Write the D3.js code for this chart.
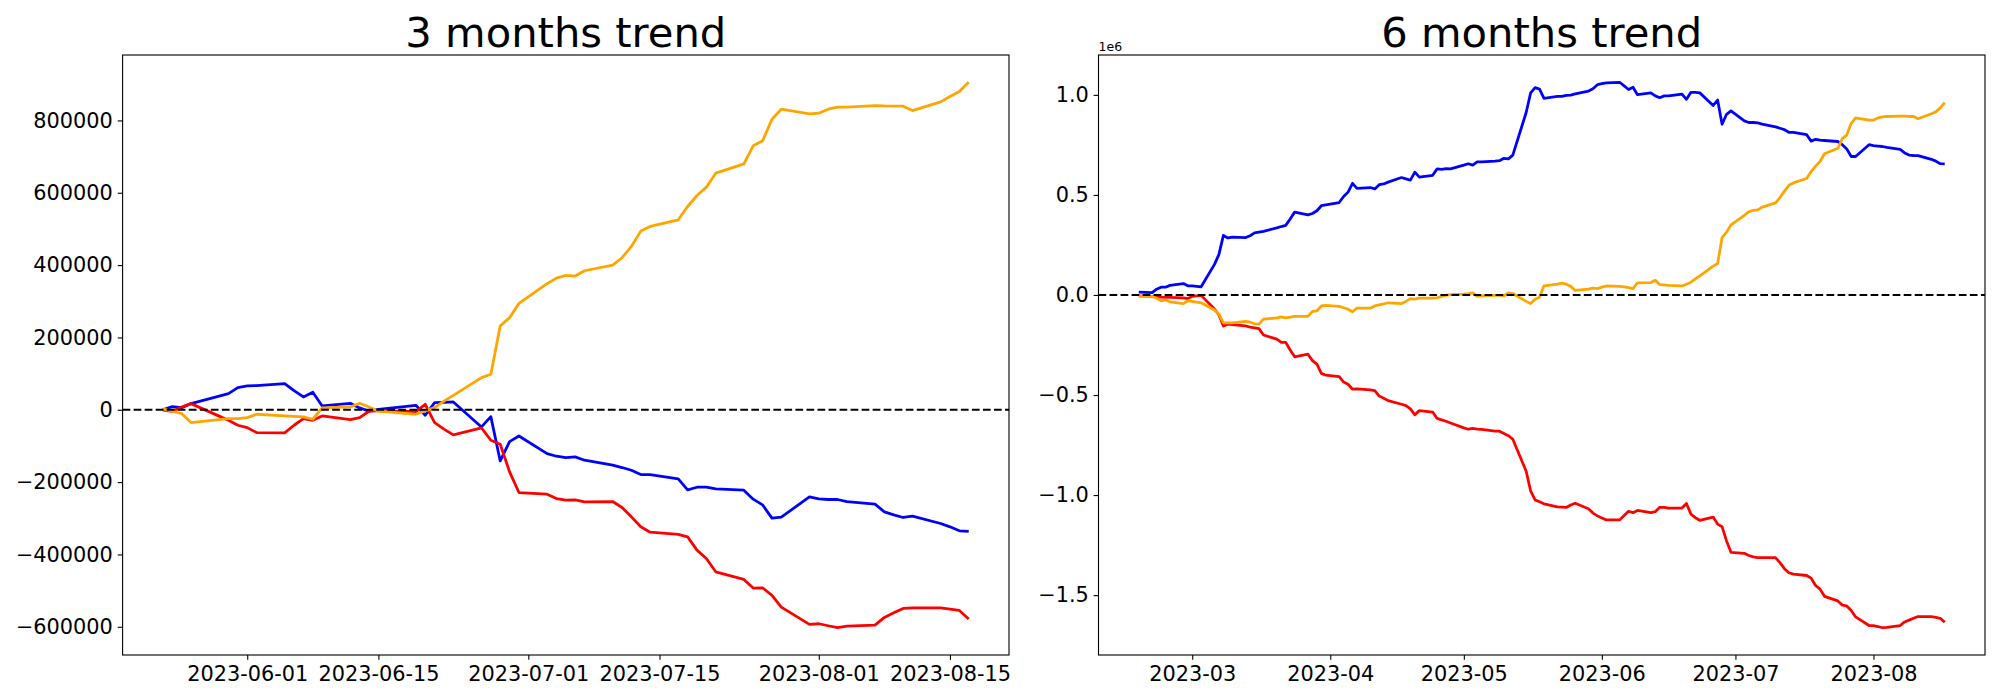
<!DOCTYPE html>
<html>
<head>
<meta charset="utf-8">
<script src="https://cdn.jsdelivr.net/npm/d3@7"></script>
<style>
  body { margin: 0; background: #ffffff; }
  svg { display: block; font-family: "DejaVu Sans", sans-serif; }
</style>
</head>
<body>
<svg id="chart" width="2000" height="700"></svg>
<script>
// ---- 3 months panel: trading days and cumulative values ----
const shortDates = [
  "2023-05-23", "2023-05-24", "2023-05-25", "2023-05-26",
  "2023-05-29", "2023-05-30", "2023-05-31", "2023-06-01", "2023-06-02",
  "2023-06-05", "2023-06-06", "2023-06-07", "2023-06-08", "2023-06-09",
  "2023-06-12", "2023-06-13", "2023-06-14", "2023-06-15", "2023-06-16",
  "2023-06-19", "2023-06-20", "2023-06-21", "2023-06-22", "2023-06-23",
  "2023-06-26", "2023-06-27", "2023-06-28", "2023-06-29", "2023-06-30",
  "2023-07-03", "2023-07-04", "2023-07-05", "2023-07-06", "2023-07-07",
  "2023-07-10", "2023-07-11", "2023-07-12", "2023-07-13", "2023-07-14",
  "2023-07-17", "2023-07-18", "2023-07-19", "2023-07-20", "2023-07-21",
  "2023-07-24", "2023-07-25", "2023-07-26", "2023-07-27", "2023-07-28",
  "2023-07-31", "2023-08-01", "2023-08-02", "2023-08-03", "2023-08-04",
  "2023-08-07", "2023-08-08", "2023-08-09", "2023-08-10", "2023-08-11",
  "2023-08-14", "2023-08-15", "2023-08-16", "2023-08-17"
];
const shortBlue = [
  0, 8700, 6000, 17000,
  37800, 44700, 61200, 65800, 66800,
  72300, 53000, 35400, 48300, 10600,
  18000, 5100, -4100, 1400, 4100,
  12400, -15200, 19800, 20700, 21600,
  -47400, -18900, -141400, -88000, -72400,
  -121100, -128400, -132000, -130300, -139500,
  -153300, -159700, -167100, -179000, -179000,
  -191100, -221500, -214100, -214100, -218700,
  -222400, -247200, -262900, -299700, -296900,
  -240800, -246300, -248100, -248100, -253700,
  -261000, -282200, -290400, -297800, -294100,
  -314400, -323600, -334600, -336400
];
const shortRed = [
  -1000, -4100, 7800, 17000,
  -17600, -29000, -42800, -49300, -63100,
  -64000, -42800, -24400, -29000, -17000,
  -27200, -21600, -4100, -2000, -3000,
  -5000, 15200, -35400, -53400, -69500,
  -50200, -84300, -95300, -171700, -228800,
  -233400, -245400, -250000, -249100, -254600,
  -253700, -270200, -296000, -323600, -338400,
  -344700, -351300, -388100, -411100, -448000,
  -469000, -493000, -492200, -513200, -545600,
  -593400, -591600, -597100, -602600, -598000,
  -595300, -574000, -561300, -549200, -547500,
  -547500, -551000, -554700, -578700
];
const shortOrange = [
  2300, -4100, -10600, -35400,
  -27200, -24400, -24400, -21600, -12400,
  -16900, -18400, -19800, -26200, 5100,
  7800, 18000, 7800, -4100, -6000,
  -12400, -3200, 6000, 23900, 40000,
  88900, 98100, 231500, 254700, 294200,
  348600, 364100, 371500, 369700, 384400,
  400000, 420400, 451600, 494000, 506900,
  525300, 562100, 592500, 615500, 654200,
  680000, 729800, 743600, 803400, 831000,
  818100, 820000, 831000, 836500, 836800,
  841100, 840000, 839500, 839300, 827300,
  851300, 866000, 879800, 905500
];
const shortXTicks = ["2023-06-01", "2023-06-15", "2023-07-01", "2023-07-15", "2023-08-01", "2023-08-15"];
const shortYTicks = [-600000, -400000, -200000, 0, 200000, 400000, 600000, 800000];

// ---- 6 months panel: values in millions (axis shows the 1e6 offset) ----
const longDates = [
  "2023-02-17",
  "2023-02-20", "2023-02-21", "2023-02-22", "2023-02-23", "2023-02-24",
  "2023-02-27", "2023-02-28", "2023-03-01", "2023-03-02", "2023-03-03",
  "2023-03-06", "2023-03-07", "2023-03-08", "2023-03-09", "2023-03-10",
  "2023-03-13", "2023-03-14", "2023-03-15", "2023-03-16", "2023-03-17",
  "2023-03-20", "2023-03-21", "2023-03-22", "2023-03-23", "2023-03-24",
  "2023-03-27", "2023-03-28", "2023-03-29", "2023-03-30", "2023-03-31",
  "2023-04-03", "2023-04-04", "2023-04-05", "2023-04-06", "2023-04-07",
  "2023-04-10", "2023-04-11", "2023-04-12", "2023-04-13", "2023-04-14",
  "2023-04-17", "2023-04-18", "2023-04-19", "2023-04-20", "2023-04-21",
  "2023-04-24", "2023-04-25", "2023-04-26", "2023-04-27", "2023-04-28",
  "2023-05-01", "2023-05-02", "2023-05-03", "2023-05-04", "2023-05-05",
  "2023-05-08", "2023-05-09", "2023-05-10", "2023-05-11", "2023-05-12",
  "2023-05-15", "2023-05-16", "2023-05-17", "2023-05-18", "2023-05-19",
  "2023-05-22", "2023-05-23", "2023-05-24", "2023-05-25", "2023-05-26",
  "2023-05-29", "2023-05-30", "2023-05-31", "2023-06-01", "2023-06-02",
  "2023-06-05", "2023-06-06", "2023-06-07", "2023-06-08", "2023-06-09",
  "2023-06-12", "2023-06-13", "2023-06-14", "2023-06-15", "2023-06-16",
  "2023-06-19", "2023-06-20", "2023-06-21", "2023-06-22", "2023-06-23",
  "2023-06-26", "2023-06-27", "2023-06-28", "2023-06-29", "2023-06-30",
  "2023-07-03", "2023-07-04", "2023-07-05", "2023-07-06", "2023-07-07",
  "2023-07-10", "2023-07-11", "2023-07-12", "2023-07-13", "2023-07-14",
  "2023-07-17", "2023-07-18", "2023-07-19", "2023-07-20", "2023-07-21",
  "2023-07-24", "2023-07-25", "2023-07-26", "2023-07-27", "2023-07-28",
  "2023-07-31", "2023-08-01", "2023-08-02", "2023-08-03", "2023-08-04",
  "2023-08-07", "2023-08-08", "2023-08-09", "2023-08-10", "2023-08-11",
  "2023-08-14", "2023-08-15", "2023-08-16", "2023-08-17"
];
const longBlue = [
  0.014,
  0.012, 0.029, 0.039, 0.039, 0.048,
  0.057, 0.046, 0.045, 0.043, 0.041,
  0.153, 0.203, 0.298, 0.285, 0.289,
  0.287, 0.296, 0.310, 0.314, 0.318,
  0.335, 0.342, 0.348, 0.380, 0.414,
  0.400, 0.407, 0.421, 0.446, 0.450,
  0.462, 0.492, 0.514, 0.558, 0.533,
  0.537, 0.530, 0.551, 0.555, 0.564,
  0.587, 0.580, 0.574, 0.614, 0.589,
  0.598, 0.630, 0.628, 0.631, 0.630,
  0.649, 0.656, 0.649, 0.665, 0.665,
  0.669, 0.671, 0.683, 0.680, 0.699,
  0.912, 1.010, 1.036, 1.029, 0.983,
  0.992, 0.992, 0.997, 0.999, 1.005,
  1.019, 1.031, 1.051, 1.056, 1.060,
  1.063, 1.045, 1.027, 1.038, 1.001,
  1.010, 0.995, 0.986, 0.995, 0.995,
  1.004, 0.978, 1.013, 1.013, 1.010,
  0.947, 0.974, 0.853, 0.903, 0.920,
  0.870, 0.862, 0.862, 0.860, 0.854,
  0.840, 0.833, 0.826, 0.813, 0.813,
  0.801, 0.769, 0.778, 0.774, 0.772,
  0.767, 0.751, 0.730, 0.692, 0.692,
  0.751, 0.746, 0.744, 0.742, 0.738,
  0.728, 0.710, 0.699, 0.697, 0.696,
  0.678, 0.669, 0.656, 0.655
];
const longRed = [
  -0.004,
  -0.007, -0.009, -0.011, -0.012, -0.012,
  -0.014, -0.018, -0.007, -0.004, -0.002,
  -0.070, -0.100, -0.155, -0.146, -0.148,
  -0.155, -0.161, -0.164, -0.168, -0.200,
  -0.221, -0.237, -0.237, -0.275, -0.309,
  -0.296, -0.328, -0.346, -0.392, -0.401,
  -0.408, -0.435, -0.446, -0.471, -0.469,
  -0.474, -0.478, -0.505, -0.516, -0.528,
  -0.546, -0.553, -0.569, -0.599, -0.578,
  -0.585, -0.617, -0.624, -0.631, -0.640,
  -0.664, -0.671, -0.667, -0.671, -0.672,
  -0.680, -0.681, -0.692, -0.703, -0.721,
  -0.881, -0.979, -1.024, -1.033, -1.044,
  -1.059, -1.060, -1.062, -1.050, -1.041,
  -1.068, -1.090, -1.104, -1.115, -1.124,
  -1.124, -1.102, -1.081, -1.088, -1.077,
  -1.088, -1.083, -1.061, -1.061, -1.065,
  -1.065, -1.042, -1.095, -1.113, -1.126,
  -1.110, -1.145, -1.158, -1.229, -1.286,
  -1.291, -1.302, -1.309, -1.313, -1.313,
  -1.313, -1.338, -1.368, -1.388, -1.395,
  -1.402, -1.415, -1.452, -1.470, -1.506,
  -1.529, -1.550, -1.554, -1.577, -1.609,
  -1.652, -1.652, -1.657, -1.663, -1.661,
  -1.652, -1.634, -1.625, -1.616, -1.607,
  -1.607, -1.611, -1.616, -1.636
];
const longOrange = [
  -0.007,
  -0.007, -0.016, -0.029, -0.025, -0.034,
  -0.043, -0.029, -0.032, -0.036, -0.039,
  -0.075, -0.096, -0.139, -0.139, -0.139,
  -0.132, -0.136, -0.144, -0.146, -0.121,
  -0.114, -0.109, -0.114, -0.111, -0.107,
  -0.107, -0.082, -0.080, -0.055, -0.052,
  -0.057, -0.064, -0.071, -0.084, -0.066,
  -0.066, -0.055, -0.050, -0.045, -0.039,
  -0.043, -0.032, -0.018, -0.021, -0.016,
  -0.016, -0.014, -0.007, -0.002, 0.002,
  0.004, 0.007, 0.011, -0.007, -0.005,
  -0.002, -0.002, -0.005, 0.011, 0.007,
  -0.032, -0.043, -0.021, -0.011, 0.046,
  0.054, 0.059, 0.054, 0.043, 0.023,
  0.029, 0.034, 0.032, 0.039, 0.045,
  0.043, 0.041, 0.037, 0.032, 0.061,
  0.062, 0.073, 0.052, 0.050, 0.048,
  0.045, 0.054, 0.064, 0.080, 0.096,
  0.144, 0.157, 0.287, 0.314, 0.350,
  0.398, 0.416, 0.423, 0.425, 0.439,
  0.460, 0.487, 0.519, 0.548, 0.560,
  0.582, 0.617, 0.644, 0.667, 0.706,
  0.733, 0.781, 0.799, 0.858, 0.885,
  0.874, 0.874, 0.885, 0.890, 0.892,
  0.894, 0.894, 0.892, 0.892, 0.881,
  0.906, 0.915, 0.935, 0.961
];
const longXTicks = ["2023-03-01", "2023-04-01", "2023-05-01", "2023-06-01", "2023-07-01", "2023-08-01"];
const longYTicks = [-1.5, -1.0, -0.5, 0.0, 0.5, 1.0];

const svg = d3.select("#chart");
const parseDate = d3.timeParse("%Y-%m-%d");

// matplotlib-ish sizes (pt -> px at 100 dpi)
const tickFont = 20.83;
const tickLen = 4.86;
const spineWidth = 1.11;

svg.append("rect").attr("width", 2000).attr("height", 700).attr("fill", "#ffffff");

function drawPanel(cfg) {
  const g = svg.append("g");
  const dates = cfg.dates.map(parseDate);

  // 5% margins on both axes, like the default autoscale
  const t0 = +dates[0];
  const t1 = +dates[dates.length - 1];
  const tPad = (t1 - t0) * 0.05;
  const x = d3.scaleTime()
    .domain([new Date(t0 - tPad), new Date(t1 + tPad)])
    .range([cfg.left, cfg.right]);

  const allValues = cfg.series.flatMap(s => s.values);
  const [lo, hi] = d3.extent(allValues);
  const vPad = (hi - lo) * 0.05;
  const y = d3.scaleLinear()
    .domain([lo - vPad, hi + vPad])
    .range([cfg.bottom, cfg.top]);

  const line = d3.line()
    .x(d => x(d.date))
    .y(d => y(d.value));

  cfg.series.forEach(s => {
    const points = s.values.map((v, i) => ({ date: dates[i], value: v }));
    g.append("path")
      .datum(points)
      .attr("fill", "none")
      .attr("stroke", s.color)
      .attr("stroke-width", 2.78)
      .attr("stroke-linejoin", "round")
      .attr("d", line);
  });

  // zero reference line
  g.append("line")
    .attr("x1", cfg.left)
    .attr("x2", cfg.right)
    .attr("y1", y(0))
    .attr("y2", y(0))
    .attr("stroke", "#000000")
    .attr("stroke-width", 2.08)
    .attr("stroke-dasharray", "7.7,3.33");

  // axes
  const xAxis = d3.axisBottom(x)
    .tickValues(cfg.xTicks.map(parseDate))
    .tickFormat(d3.timeFormat(cfg.xFormat))
    .tickSizeInner(tickLen)
    .tickSizeOuter(0)
    .tickPadding(6.3);
  const yAxis = d3.axisLeft(y)
    .tickValues(cfg.yTicks)
    .tickFormat(cfg.yFormat)
    .tickSizeInner(tickLen)
    .tickSizeOuter(0)
    .tickPadding(tickLen);

  [
    g.append("g").attr("transform", `translate(0,${cfg.bottom})`).call(xAxis),
    g.append("g").attr("transform", `translate(${cfg.left},0)`).call(yAxis)
  ].forEach(ax => {
    ax.select(".domain").remove();
    ax.selectAll(".tick line").attr("stroke", "#000000").attr("stroke-width", spineWidth);
    ax.selectAll(".tick text")
      .attr("fill", "#000000")
      .style("font-family", "'DejaVu Sans', sans-serif")
      .style("font-size", tickFont + "px");
  });

  // spines
  g.append("rect")
    .attr("x", cfg.left)
    .attr("y", cfg.top)
    .attr("width", cfg.right - cfg.left)
    .attr("height", cfg.bottom - cfg.top)
    .attr("fill", "none")
    .attr("stroke", "#000000")
    .attr("stroke-width", spineWidth);

  g.append("text")
    .attr("x", (cfg.left + cfg.right) / 2)
    .attr("y", cfg.top - 8.3)
    .attr("text-anchor", "middle")
    .style("font-size", "41.67px")
    .attr("fill", "#000000")
    .text(cfg.title);

  if (cfg.offsetText) {
    g.append("text")
      .attr("x", cfg.left)
      .attr("y", cfg.top - 4.3)
      .style("font-size", "12.5px")
      .attr("fill", "#000000")
      .text(cfg.offsetText);
  }
}

drawPanel({
  title: "3 months trend",
  left: 122.6, right: 1009, top: 55, bottom: 655,
  dates: shortDates,
  series: [
    { values: shortBlue, color: "blue" },
    { values: shortRed, color: "red" },
    { values: shortOrange, color: "orange" }
  ],
  xTicks: shortXTicks,
  xFormat: "%Y-%m-%d",
  yTicks: shortYTicks,
  yFormat: d3.format("d")
});

drawPanel({
  title: "6 months trend",
  left: 1098.5, right: 1985, top: 55, bottom: 655,
  dates: longDates,
  series: [
    { values: longBlue, color: "blue" },
    { values: longRed, color: "red" },
    { values: longOrange, color: "orange" }
  ],
  xTicks: longXTicks,
  xFormat: "%Y-%m",
  yTicks: longYTicks,
  yFormat: d3.format(".1f"),
  offsetText: "1e6"
});
</script>
</body>
</html>
